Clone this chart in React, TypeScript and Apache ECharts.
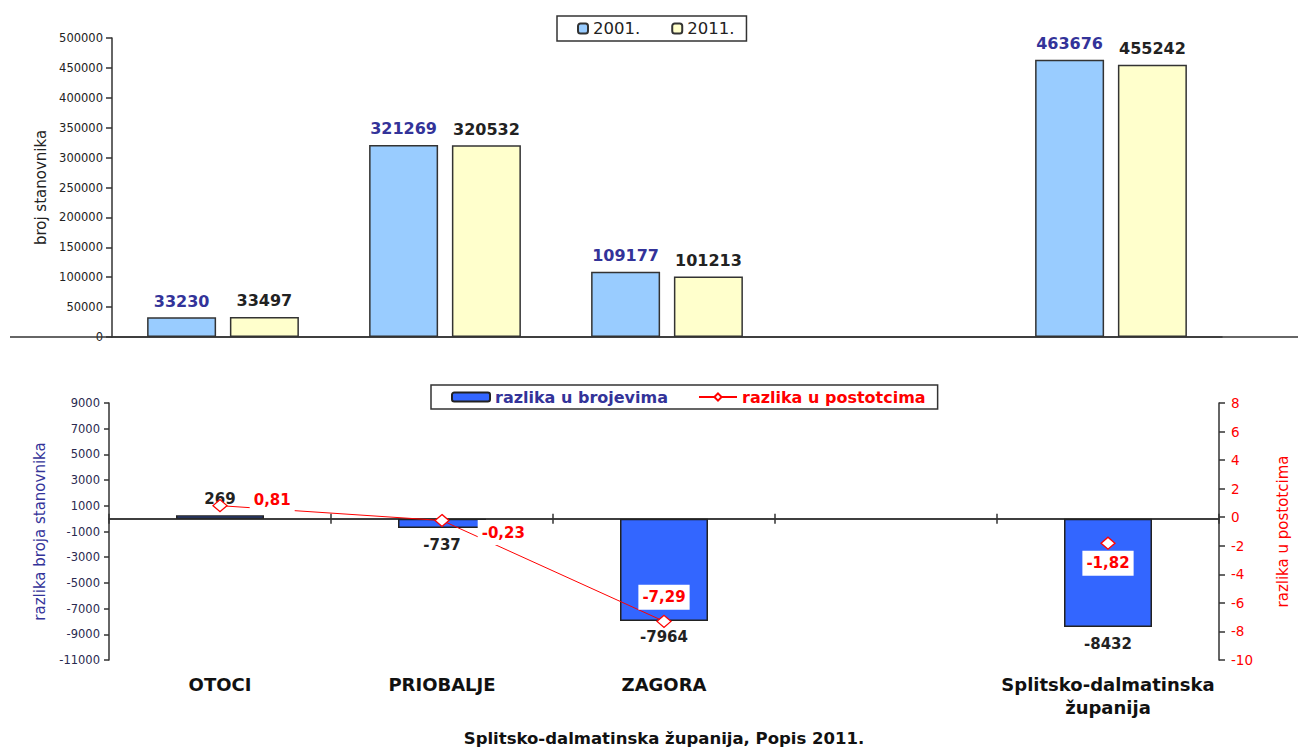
import React, { useEffect, useRef } from "react";
import * as echarts from "echarts";

// ---- data ----
const categories = ["OTOCI", "PRIOBALJE", "ZAGORA", "", "Splitsko-dalmatinska\nžupanija"];
const pop2001 = [33230, 321269, 109177, null, 463676];
const pop2011 = [33497, 320532, 101213, null, 455242];
const diffCount = [269, -737, -7964, null, -8432];
const diffPct = [0.81, -0.23, -7.29, null, -1.82];
const topLegend = ["2001.", "2011."];
const bottomLegend = ["razlika u brojevima", "razlika u postotcima"];
const topAxisName = "broj stanovnika";
const leftAxisName = "razlika broja stanovnika";
const rightAxisName = "razlika u postotcima";
const subtitle = "Splitsko-dalmatinska županija, Popis 2011.";

const F = "'DejaVu Sans', Verdana, sans-serif";
const AX = "#333333";

// label placements for the percent series (style only)
const pctLabelPlacement: any[] = [
  { position: "right", distance: 22, offset: [0, -6] },
  { position: "right", distance: 28, offset: [0, 12] },
  { position: "top", distance: 5 },
  {},
  { position: "bottom", distance: 1 },
];

const fmtPct = (v: number) => v.toFixed(2).replace(".", ",");
const plain = (v: number) => String(v);

export default function App() {
  const ref = useRef<HTMLDivElement>(null);
  useEffect(() => {
    if (!ref.current) return;
    const chart = echarts.init(ref.current, null, { renderer: "svg" });
    const axisLine = { show: true, lineStyle: { color: AX, width: 1.5 } };
    const option: any = {
      animation: false,
      backgroundColor: "#ffffff",
      textStyle: { fontFamily: F },
      grid: [
        { left: 112, right: 76, top: 38, height: 299 },
        { left: 109, right: 79, top: 403, height: 257 },
      ],
      legend: [
        {
          data: topLegend,
          left: 557,
          top: 16,
          orient: "horizontal",
          padding: [4, 12, 4, 20],
          itemGap: 31,
          itemWidth: 10,
          itemHeight: 10,
          borderColor: AX,
          borderWidth: 1.5,
          selectedMode: false,
          textStyle: { fontFamily: F, fontSize: 16.5, color: "#222" },
        },
        {
          data: [
            { name: bottomLegend[0], textStyle: { color: "#333399" } },
            { name: bottomLegend[1], textStyle: { color: "#ff0000" } },
          ],
          left: 431,
          top: 385,
          padding: [4, 12, 4, 20],
          itemGap: 30,
          itemWidth: 38,
          itemHeight: 9,
          borderColor: AX,
          borderWidth: 1.5,
          selectedMode: false,
          textStyle: { fontFamily: F, fontSize: 16, fontWeight: "bold" },
        },
      ],
      xAxis: [
        {
          gridIndex: 0,
          type: "category",
          data: categories,
          axisLine,
          axisTick: { show: false },
          axisLabel: { show: false },
        },
        {
          gridIndex: 1,
          type: "category",
          data: categories,
          position: "bottom",
          axisLine: { ...axisLine, onZero: true, onZeroAxisIndex: 1 },
          axisTick: { show: true, length: 5, lineStyle: { color: AX, width: 1.5 } },
          axisLabel: { show: false },
        },
        {
          gridIndex: 1,
          type: "category",
          data: categories,
          position: "bottom",
          axisLine: { ...axisLine, onZero: true, onZeroAxisIndex: 1 },
          axisTick: { show: true, inside: true, length: 5, lineStyle: { color: AX, width: 1.5 } },
          axisLabel: { show: false },
        },
        {
          gridIndex: 1,
          type: "category",
          data: categories,
          position: "bottom",
          axisLine: { show: false, onZero: false },
          axisTick: { show: false },
          axisLabel: {
            show: true,
            interval: 0,
            margin: 13,
            fontFamily: F,
            fontSize: 18,
            fontWeight: "bold",
            color: "#111",
            lineHeight: 23,
          },
        },
      ],
      yAxis: [
        {
          gridIndex: 0,
          type: "value",
          min: 0,
          max: 500000,
          interval: 50000,
          axisLine,
          axisTick: { show: true, length: 6, lineStyle: { color: AX, width: 1.5 } },
          splitLine: { show: false },
          axisLabel: { fontFamily: F, fontSize: 11.5, color: "#222", margin: 9, formatter: plain },
          name: topAxisName,
          nameLocation: "middle",
          nameGap: 64,
          nameTextStyle: { fontFamily: F, fontSize: 15, color: "#222" },
        },
        {
          gridIndex: 1,
          type: "value",
          position: "left",
          min: -11000,
          max: 9000,
          interval: 2000,
          axisLine,
          axisTick: { show: true, length: 5, lineStyle: { color: AX, width: 1.5 } },
          splitLine: { show: false },
          axisLabel: { fontFamily: F, fontSize: 11.5, color: "#2a2a50", margin: 9, formatter: plain },
          name: leftAxisName,
          nameLocation: "middle",
          nameGap: 62,
          nameTextStyle: { fontFamily: F, fontSize: 15, color: "#333399" },
        },
        {
          gridIndex: 1,
          type: "value",
          position: "right",
          min: -10,
          max: 8,
          interval: 2,
          axisLine,
          axisTick: { show: true, length: 6, lineStyle: { color: AX, width: 1.5 } },
          splitLine: { show: false },
          axisLabel: { fontFamily: F, fontSize: 13.5, color: "#ff0000", margin: 12, formatter: plain },
          name: rightAxisName,
          nameLocation: "middle",
          nameGap: 56,
          nameTextStyle: { fontFamily: F, fontSize: 15, color: "#ff0000" },
        },
      ],
      series: [
        {
          name: topLegend[0],
          type: "bar",
          xAxisIndex: 0,
          yAxisIndex: 0,
          data: pop2001,
          barWidth: 69,
          barGap: "20%",
          itemStyle: { color: "#99ccff", borderColor: AX, borderWidth: 1.5 },
          label: {
            show: true,
            position: "top",
            distance: 8,
            fontFamily: F,
            fontSize: 16,
            fontWeight: "bold",
            color: "#333399",
          },
        },
        {
          name: topLegend[1],
          type: "bar",
          xAxisIndex: 0,
          yAxisIndex: 0,
          data: pop2011,
          barWidth: 69,
          barGap: "20%",
          itemStyle: { color: "#ffffcc", borderColor: AX, borderWidth: 1.5 },
          label: {
            show: true,
            position: "top",
            distance: 8,
            fontFamily: F,
            fontSize: 16,
            fontWeight: "bold",
            color: "#222",
          },
        },
        {
          name: bottomLegend[0],
          type: "bar",
          xAxisIndex: 1,
          yAxisIndex: 1,
          barWidth: 88,
          data: diffCount.map((v) =>
            v == null ? null : { value: v, label: { position: v >= 0 ? "top" : "bottom" } }
          ),
          itemStyle: { color: "#3366ff", borderColor: "#222", borderWidth: 1.5 },
          label: {
            show: true,
            distance: 9,
            fontFamily: F,
            fontSize: 15,
            fontWeight: "bold",
            color: "#222",
          },
        },
        {
          name: bottomLegend[1],
          type: "line",
          xAxisIndex: 1,
          yAxisIndex: 2,
          z: 5,
          data: diffPct.map((v, i) => (v == null ? null : { value: v, label: pctLabelPlacement[i] })),
          connectNulls: false,
          symbol: "diamond",
          symbolSize: [14, 12],
          lineStyle: { color: "#ff0000", width: 1 },
          itemStyle: { color: "#ffffff", borderColor: "#ff0000", borderWidth: 1.3 },
          label: {
            show: true,
            formatter: (p: any) => fmtPct(p.value),
            fontFamily: F,
            fontSize: 15,
            fontWeight: "bold",
            color: "#ff0000",
            backgroundColor: "#ffffff",
            padding: [5, 4],
          },
        },
      ],
      graphic: [
        {
          type: "line",
          shape: { x1: 10, y1: 337, x2: 1298, y2: 337 },
          style: { stroke: AX, lineWidth: 1.5 },
          z: 10,
        },
        {
          type: "text",
          x: 664,
          y: 738,
          style: {
            text: subtitle,
            fontFamily: F,
            fontSize: 16.5,
            fontWeight: "bold",
            fill: "#111",
            textAlign: "center",
            textVerticalAlign: "middle",
          },
        },
      ],
    };
    chart.setOption(option);
    return () => chart.dispose();
  }, []);
  return (
    <div
      ref={ref}
      style={{ position: "fixed", left: 0, top: 0, width: 1298, height: 749, background: "#fff" }}
    />
  );
}
